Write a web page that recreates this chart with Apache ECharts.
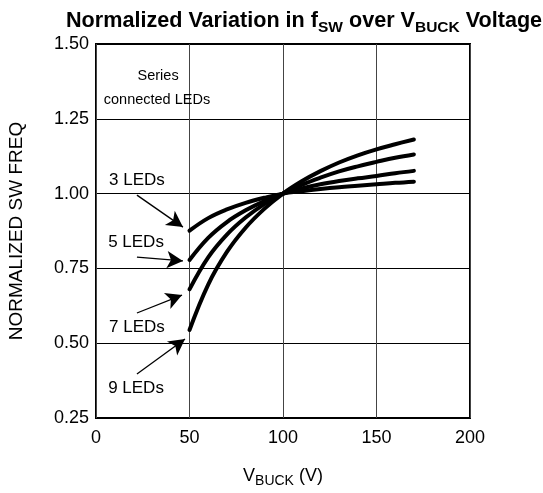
<!DOCTYPE html>
<html><head><meta charset="utf-8">
<script src="https://cdn.jsdelivr.net/npm/echarts@6/dist/echarts.min.js"></script>
<style>html,body{margin:0;padding:0;background:#fff}#c{width:543px;height:493px}</style>
</head><body><div id="c"></div>
<script>
const vbuck = [50, 60, 70, 80, 90, 100, 110, 120, 130, 140, 150, 160, 170];
const leds3 = [0.876, 0.918, 0.947, 0.969, 0.986, 1.0, 1.008, 1.015, 1.021, 1.026, 1.031, 1.036, 1.040];
const leds5 = [0.778, 0.852, 0.905, 0.944, 0.975, 1.0, 1.017, 1.031, 1.042, 1.051, 1.059, 1.068, 1.076];
const leds7 = [0.680, 0.787, 0.863, 0.920, 0.965, 1.0, 1.029, 1.053, 1.074, 1.091, 1.106, 1.120, 1.131];
const leds9 = [0.544, 0.696, 0.805, 0.886, 0.949, 1.0, 1.041, 1.075, 1.104, 1.128, 1.148, 1.165, 1.181];
const xTicks = [0, 50, 100, 150, 200];
const yTicks = [0.25, 0.50, 0.75, 1.00, 1.25, 1.50];
const seriesNames = ['3 LEDs', '5 LEDs', '7 LEDs', '9 LEDs'];
// annotation label anchors [V, value] and arrow [from, to]
const labelPos = [[21.9, 1.045], [21.4, 0.838], [21.9, 0.554], [21.4, 0.350]];
const arrows = [
  [[21.9, 0.995], [46.5, 0.888]],
  [[21.9, 0.788], [46.5, 0.775]],
  [[21.9, 0.601], [46.0, 0.661]],
  [[21.9, 0.397], [47.6, 0.514]]
];
const noteLines = [['Series', 33.2, 1.393], ['connected LEDs', 32.6, 1.313]];

const FONT = '"Liberation Sans", Arial, sans-serif';
const allData = [leds3, leds5, leds7, leds9];
const series = allData.map((d, i) => ({
  name: seriesNames[i],
  type: 'line',
  smooth: 0.4,
  symbol: 'none',
  data: vbuck.map((v, j) => [v, d[j]]),
  lineStyle: { color: '#000', width: 4, cap: 'round' },
  z: 5
}));
series.push({
  type: 'line',
  data: [],
  silent: true,
  markLine: {
    silent: true,
    symbol: ['none', 'arrow'],
    symbolSize: [13, 16],
    lineStyle: { color: '#000', width: 1.3, type: 'solid' },
    label: { show: false },
    data: arrows.map(a => [{ coord: a[0] }, { coord: a[1] }])
  },
  markPoint: {
    silent: true,
    symbol: 'circle',
    symbolSize: 0,
    label: { show: true, position: 'inside', color: '#000', fontSize: 17, fontFamily: FONT,
      formatter: p => p.name },
    data: labelPos.map((p, i) => ({ name: seriesNames[i], coord: p }))
      .concat(noteLines.map(n => ({ name: n[0], coord: [n[1], n[2]], label: { fontSize: 14.5 } })))
  }
});

const chart = echarts.init(document.getElementById('c'), null, { renderer: 'canvas' });
chart.setOption({
  animation: false,
  backgroundColor: '#fff',
  title: {
    text: '{a|Normalized Variation in f}{s|SW}{a| over V}{s|BUCK}{a| Voltage}',
    left: 61, top: 5,
    textStyle: {
      rich: {
        a: { fontSize: 21.6, fontWeight: 'bold', fontFamily: FONT, color: '#000', verticalAlign: 'top', lineHeight: 26 },
        s: { fontSize: 15.5, fontWeight: 'bold', fontFamily: FONT, color: '#000', verticalAlign: 'bottom', lineHeight: 26, padding: [9, 0, 0, 0] }
      }
    }
  },
  grid: { left: 96, right: 73, top: 44, bottom: 75, show: true, borderColor: '#000', borderWidth: 2,
    containLabel: false, outerBoundsMode: 'none' },
  xAxis: {
    type: 'value', min: 0, max: 200, interval: 50,
    axisLine: { show: false }, axisTick: { show: false },
    splitLine: { show: true, lineStyle: { color: '#444', width: 1 } },
    axisLabel: { color: '#000', fontSize: 18, fontFamily: FONT, margin: 11 },
    name: '{a|V}{s|BUCK}{a| (V)}',
    nameLocation: 'middle', nameGap: 46, nameMoveOverlap: false,
    nameTextStyle: {
      rich: {
        a: { fontSize: 18, fontFamily: FONT, color: '#000' },
        s: { fontSize: 14, fontFamily: FONT, color: '#000', padding: [10, 0, 0, 0] }
      }
    }
  },
  yAxis: {
    type: 'value', min: 0.25, max: 1.5, interval: 0.25,
    axisLine: { show: false }, axisTick: { show: false },
    splitLine: { show: true, lineStyle: { color: '#000', width: 1 } },
    axisLabel: { color: '#000', fontSize: 18, fontFamily: FONT, margin: 7,
      formatter: v => v.toFixed(2) },
    name: 'NORMALIZED SW FREQ',
    nameLocation: 'middle', nameGap: 70, nameRotate: 90, nameMoveOverlap: false,
    nameTextStyle: { fontSize: 19, fontFamily: FONT, color: '#000' }
  },
  series: series
});
</script></body></html>
